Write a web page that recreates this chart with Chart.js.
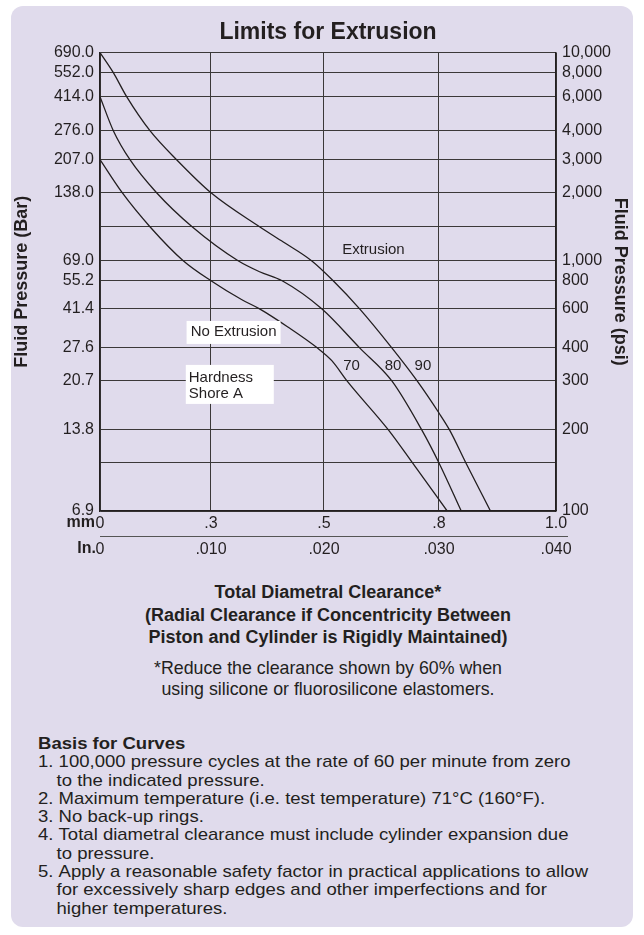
<!DOCTYPE html>
<html>
<head>
<meta charset="utf-8">
<title>Limits for Extrusion</title>
<script src="https://cdn.jsdelivr.net/npm/chart.js@4.4.0/dist/chart.umd.min.js"></script>
<style>
  body { margin: 0; background: #fff; font-family: "Liberation Sans", Arial, sans-serif; color: #231f20; }
  #panel { position: absolute; left: 11px; top: 6px; width: 622px; height: 921px; background: #e0dbec; border-radius: 12px; }
  #wrap { position: absolute; left: 0; top: 0; width: 644px; height: 560px; }
  .cap { position: absolute; left: 328px; transform: translateX(-50%); white-space: nowrap; line-height: 22px; }
  .b { font-weight: bold; font-size: 18px; }
  .n { font-size: 17.8px; }
  #basis { position: absolute; left: 38px; top: 735px; font-size: 17px; line-height: 18.3px;
           transform: scaleX(1.09); transform-origin: left top; }
  #basis .h { font-weight: bold; }
  #basis .it { padding-left: 17px; text-indent: -17px; white-space: nowrap; }
</style>
</head>
<body>
<div id="panel"></div>
<div id="wrap"><canvas id="extrusionChart" width="644" height="560"></canvas></div>

<div class="cap b" style="top:581px">Total Diametral Clearance*</div>
<div class="cap b" style="top:604px">(Radial Clearance if Concentricity Between</div>
<div class="cap b" style="top:626px">Piston and Cylinder is Rigidly Maintained)</div>
<div class="cap n" style="top:657px">*Reduce the clearance shown by 60% when</div>
<div class="cap n" style="top:678px">using silicone or fluorosilicone elastomers.</div>

<div id="basis">
  <div class="h">Basis for Curves</div>
  <div class="it">1.&nbsp;100,000 pressure cycles at the rate of 60 per minute from zero<br>to the indicated pressure.</div>
  <div class="it">2.&nbsp;Maximum temperature (i.e. test temperature) 71°C (160°F).</div>
  <div class="it">3.&nbsp;No back-up rings.</div>
  <div class="it">4.&nbsp;Total diametral clearance must include cylinder expansion due<br>to pressure.</div>
  <div class="it">5.&nbsp;Apply a reasonable safety factor in practical applications to allow<br>for excessively sharp edges and other imperfections and for<br>higher temperatures.</div>
</div>

<script>
// clearance in inches, pressure in psi
const hard70In  = [0, 0.0020, 0.0045, 0.0075, 0.0100, 0.0127, 0.0143, 0.0168, 0.0194, 0.0207, 0.0220, 0.0256, 0.0277, 0.0307];
const hard70Psi = [3000, 2000, 1500, 1000, 800, 660, 600, 497, 400, 357, 300, 200, 150, 100];
const hard80In  = [0, 0.0012, 0.0027, 0.0051, 0.0083, 0.0124, 0.0143, 0.0163, 0.0198, 0.0231, 0.0259, 0.0285, 0.0300, 0.0319];
const hard80Psi = [6000, 4000, 3000, 2000, 1500, 1000, 885, 800, 600, 400, 300, 200, 150, 100];
const hard90In  = [0, 0.0012, 0.0024, 0.0045, 0.0069, 0.0100, 0.0143, 0.0164, 0.0189, 0.0208, 0.0231, 0.0259, 0.0281, 0.0300, 0.0309, 0.0323, 0.0344];
const hard90Psi = [10000, 8000, 6000, 4000, 3000, 2000, 1500, 1250, 1000, 800, 600, 400, 300, 230, 200, 150, 100];

const psiTicks  = [100, 150, 200, 300, 400, 600, 800, 1000, 1500, 2000, 3000, 4000, 6000, 8000, 10000];
const barLabels = ['6.9', '', '13.8', '20.7', '27.6', '41.4', '55.2', '69.0', '', '138.0', '207.0', '276.0', '414.0', '552.0', '690.0'];
const psiLabels = ['100', '', '200', '300', '400', '600', '800', '1,000', '', '2,000', '3,000', '4,000', '6,000', '8,000', '10,000'];
const inchTicks  = [0, 0.010, 0.020, 0.030, 0.040];
const inchLabels = ['0', '.010', '.020', '.030', '.040'];
const mmLabels   = ['0', '.3', '.5', '.8', '1.0'];

// the printed graph paper is not evenly ruled: where each ruled line sits along its axis (0 = start, 1 = end)
const psiRuling  = [0, 0.1048, 0.1769, 0.2838, 0.3559, 0.4410, 0.5022, 0.5459, 0.6201, 0.6943, 0.7664, 0.8297, 0.9039, 0.9563, 1];
const inchRuling = [0, 0.2434, 0.4912, 0.7434, 1];

// notes written inside the plot
const notes = [
  { lines: ['Extrusion'], x: 0.0243, psi: 1140 },
  { lines: ['No Extrusion'], x: 0.0120, psi: 472, box: true },
  { lines: ['Hardness', 'Shore A'], x: 0.0080, psi: 300, box: true, left: true },
  { lines: ['70'], x: 0.0224, psi: 342 },
  { lines: ['80'], x: 0.0260, psi: 342 },
  { lines: ['90'], x: 0.0286, psi: 342 }
];

const ink = '#231f20';
const gridCol = '#3b3838';
const FONT = '"Liberation Sans", Arial, sans-serif';
Chart.defaults.font.family = FONT;
Chart.defaults.color = ink;

// piecewise mapping between an axis value (t) and its fraction along the axis
function interp(xs, ys, t) {
  let i = 1;
  while (i < xs.length - 1 && t > xs[i]) i++;
  const a = i - 1;
  return ys[a] + (t - xs[a]) / (xs[i] - xs[a]) * (ys[i] - ys[a]);
}

class RuledLogScale extends Chart.LogarithmicScale {
  getPixelForValue(value) {
    if (value === undefined || value === 0) value = this.min;
    if (value === null || isNaN(value)) return NaN;
    const logs = psiTicks.map(Math.log10);
    return this.getPixelForDecimal(interp(logs, psiRuling, Math.log10(value)));
  }
  getValueForPixel(pixel) {
    const logs = psiTicks.map(Math.log10);
    return Math.pow(10, interp(psiRuling, logs, this.getDecimalForPixel(pixel)));
  }
}
RuledLogScale.id = 'ruledLog';
RuledLogScale.defaults = Chart.LogarithmicScale.defaults;

class RuledLinearScale extends Chart.LinearScale {
  getPixelForValue(value) {
    if (value === null || isNaN(value)) return NaN;
    return this.getPixelForDecimal(interp(inchTicks, inchRuling, value));
  }
  getValueForPixel(pixel) {
    return interp(inchRuling, inchTicks, this.getDecimalForPixel(pixel));
  }
}
RuledLinearScale.id = 'ruledLinear';
RuledLinearScale.defaults = Chart.LinearScale.defaults;

Chart.register(RuledLogScale, RuledLinearScale);

function curve(xs, ys, label) {
  return {
    label: label,
    data: xs.map((v, i) => ({ x: v, y: ys[i] })),
    borderColor: ink,
    borderWidth: 1.3,
    pointRadius: 0,
    fill: false,
    cubicInterpolationMode: 'monotone',
    xAxisID: 'x',
    yAxisID: 'y'
  };
}

const notesPlugin = {
  id: 'notes',
  afterDatasetsDraw(chart) {
    const { ctx, scales } = chart;
    const sx = scales.x, sy = scales.y;
    ctx.save();
    ctx.font = '15px ' + FONT;
    ctx.textBaseline = 'middle';
    notes.forEach(n => {
      const px = sx.getPixelForValue(n.x);
      const py = sy.getPixelForValue(n.psi);
      if (n.left) {
        if (n.box) {
          ctx.fillStyle = '#fff';
          ctx.fillRect(px - 3, py - 16, 88, 39);
        }
        ctx.fillStyle = ink;
        ctx.textAlign = 'left';
        ctx.fillText(n.lines[0], px, py - 3);
        ctx.fillText(n.lines[1], px, py + 13);
      } else {
        if (n.box) {
          ctx.fillStyle = '#fff';
          ctx.fillRect(px - 47, py - 11, 94, 23);
        }
        ctx.fillStyle = ink;
        ctx.textAlign = 'center';
        ctx.fillText(n.lines[0], px, py);
      }
    });
    // unit names in front of the two clearance rows
    ctx.font = 'bold 16px ' + FONT;
    ctx.textAlign = 'right';
    const mm = scales.xmm, inch = scales.x;
    ctx.fillText('mm', mm.left - 5, mm.top + 12);
    ctx.fillText('In.', inch.left - 4, inch.top + 13);
    // rule between the mm and inch rows
    ctx.strokeStyle = '#555';
    ctx.lineWidth = 1;
    ctx.beginPath();
    ctx.moveTo(inch.left, inch.top + 0.5);
    ctx.lineTo(inch.right + 12, inch.top + 0.5);
    ctx.stroke();
    ctx.restore();
  }
};

const ctx = document.getElementById('extrusionChart').getContext('2d');
const extrusionChart = new Chart(ctx, {
  type: 'line',
  data: {
    datasets: [
      curve(hard70In, hard70Psi, '70'),
      curve(hard80In, hard80Psi, '80'),
      curve(hard90In, hard90Psi, '90')
    ]
  },
  options: {
    responsive: false,
    animation: false,
    devicePixelRatio: 1,
    layout: { padding: 0 },
    plugins: {
      legend: { display: false },
      tooltip: { enabled: false },
      title: {
        display: true,
        text: 'Limits for Extrusion',
        fullSize: false,
        color: ink,
        font: { size: 23, weight: 'bold' },
        padding: { top: 19, bottom: 6 }
      }
    },
    scales: {
      x: {
        type: 'ruledLinear',
        position: 'bottom',
        weight: 1,
        min: 0,
        max: 0.04,
        afterBuildTicks: s => { s.ticks = inchTicks.map(v => ({ value: v })); },
        afterFit: s => { s.height = 24; },
        ticks: {
          autoSkip: false,
          maxRotation: 0,
          padding: 4,
          color: ink,
          font: { size: 16 },
          callback: v => inchLabels[inchTicks.indexOf(v)]
        },
        grid: { color: gridCol, lineWidth: 1, drawTicks: false },
        border: { display: false }
      },
      xmm: {
        type: 'ruledLinear',
        position: 'bottom',
        weight: 0,
        min: 0,
        max: 0.04,
        afterBuildTicks: s => { s.ticks = inchTicks.map(v => ({ value: v })); },
        afterFit: s => { s.height = 25; },
        ticks: {
          autoSkip: false,
          maxRotation: 0,
          padding: 3,
          color: ink,
          font: { size: 16 },
          callback: v => mmLabels[inchTicks.indexOf(v)]
        },
        grid: { display: false, drawTicks: false },
        border: { display: true, color: ink, width: 1.3 }
      },
      y: {
        type: 'ruledLog',
        position: 'left',
        min: 100,
        max: 10000,
        afterBuildTicks: s => { s.ticks = psiTicks.map(v => ({ value: v })); },
        afterFit: s => { s.width = 100; },
        ticks: {
          autoSkip: false,
          padding: 6,
          color: ink,
          font: { size: 16 },
          callback: v => barLabels[psiTicks.indexOf(v)]
        },
        grid: { color: gridCol, lineWidth: 1, drawTicks: false },
        border: { display: true, color: ink, width: 1.3 },
        title: {
          display: true,
          text: 'Fluid Pressure (Bar)',
          color: ink,
          font: { size: 18, weight: 'bold' },
          padding: { top: 11, bottom: 0 }
        }
      },
      y2: {
        type: 'ruledLog',
        position: 'right',
        min: 100,
        max: 10000,
        afterBuildTicks: s => { s.ticks = psiTicks.map(v => ({ value: v })); },
        afterFit: s => { s.width = 88; },
        ticks: {
          autoSkip: false,
          padding: 6,
          color: ink,
          font: { size: 16 },
          callback: v => psiLabels[psiTicks.indexOf(v)]
        },
        grid: { drawOnChartArea: false, drawTicks: false },
        border: { display: true, color: ink, width: 1.3 },
        title: {
          display: true,
          text: 'Fluid Pressure (psi)',
          color: ink,
          font: { size: 18, weight: 'bold' },
          padding: { top: 13, bottom: 0 }
        }
      }
    }
  },
  plugins: [notesPlugin]
});
</script>
</body>
</html>
